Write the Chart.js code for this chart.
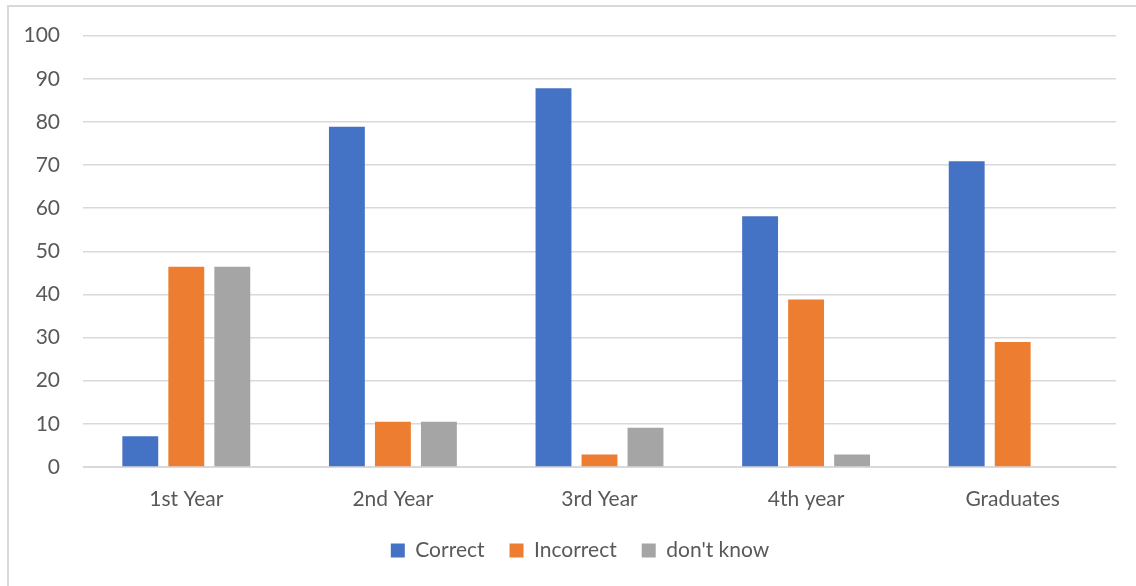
<!DOCTYPE html>
<html>
<head>
<meta charset="utf-8">
<title>Answers by year of study</title>
<script src="https://cdn.jsdelivr.net/npm/chart.js@4"></script>
<style>
  html, body { margin: 0; padding: 0; background: #fff; }
  #frame {
    position: absolute; left: 7px; top: 5px; width: 1140px; height: 600px;
    border-left: 2px solid #d9d9d9; border-top: 2px solid #d9d9d9;
  }
  #wrap { position: absolute; left: 0; top: 0; width: 1136px; height: 586px; }
</style>
</head>
<body>
<div id="frame"></div>
<div id="wrap"><canvas id="chart"></canvas></div>
<script>
  // years of study
  const categories = ['1st Year', '2nd Year', '3rd Year', '4th year', 'Graduates'];
  // percentages per answer
  const correct   = [7.1, 78.9, 87.8, 58.1, 70.9];
  const incorrect = [46.4, 10.5, 2.9, 38.8, 29.0];
  const dontKnow  = [46.4, 10.5, 9.1, 2.9, 0];
  const yTicks = [0, 10, 20, 30, 40, 50, 60, 70, 80, 90, 100];

  const font = { family: 'Lato, "Open Sans", sans-serif', size: 21 };
  const textColor = '#595959';
  const gridColor = '#d9d9d9';

  // centre the legend under the whole frame rather than the canvas
  const legendShift = {
    id: 'legendShift',
    afterLayout(chart) {
      chart.legend.left += 22;
      chart.legend.right += 22;
    }
  };

  const ctx = document.getElementById('chart').getContext('2d');
  new Chart(ctx, {
    type: 'bar',
    data: {
      labels: categories,
      datasets: [
        { label: 'Correct',   data: correct,   backgroundColor: '#4472c4' },
        { label: 'Incorrect', data: incorrect, backgroundColor: '#ed7d31' },
        { label: "don't know", data: dontKnow, backgroundColor: '#a5a5a5' }
      ]
    },
    plugins: [legendShift],
    options: {
      responsive: true,
      maintainAspectRatio: false,
      animation: false,
      categoryPercentage: 0.668,
      barPercentage: 0.78,
      layout: { padding: { left: 0, right: 20, top: 34, bottom: 15 } },
      scales: {
        x: {
          grid: { display: false, drawTicks: false },
          border: { color: gridColor, width: 1 },
          ticks: { color: textColor, font: font, padding: 20, maxRotation: 0 },
          afterFit(scale) { scale.height = 48; }
        },
        y: {
          min: 0,
          max: 100,
          afterBuildTicks(scale) { scale.ticks = yTicks.map(v => ({ value: v })); },
          grid: { color: gridColor, lineWidth: 1.5, drawTicks: false },
          border: { display: false },
          ticks: { color: textColor, font: font, padding: 23 },
          afterFit(scale) { scale.width = 83; }
        }
      },
      plugins: {
        legend: {
          position: 'bottom',
          labels: {
            color: textColor,
            font: font,
            boxWidth: 14,
            boxHeight: 14,
            padding: 25
          }
        },
        tooltip: { enabled: false }
      }
    }
  });
</script>
</body>
</html>
